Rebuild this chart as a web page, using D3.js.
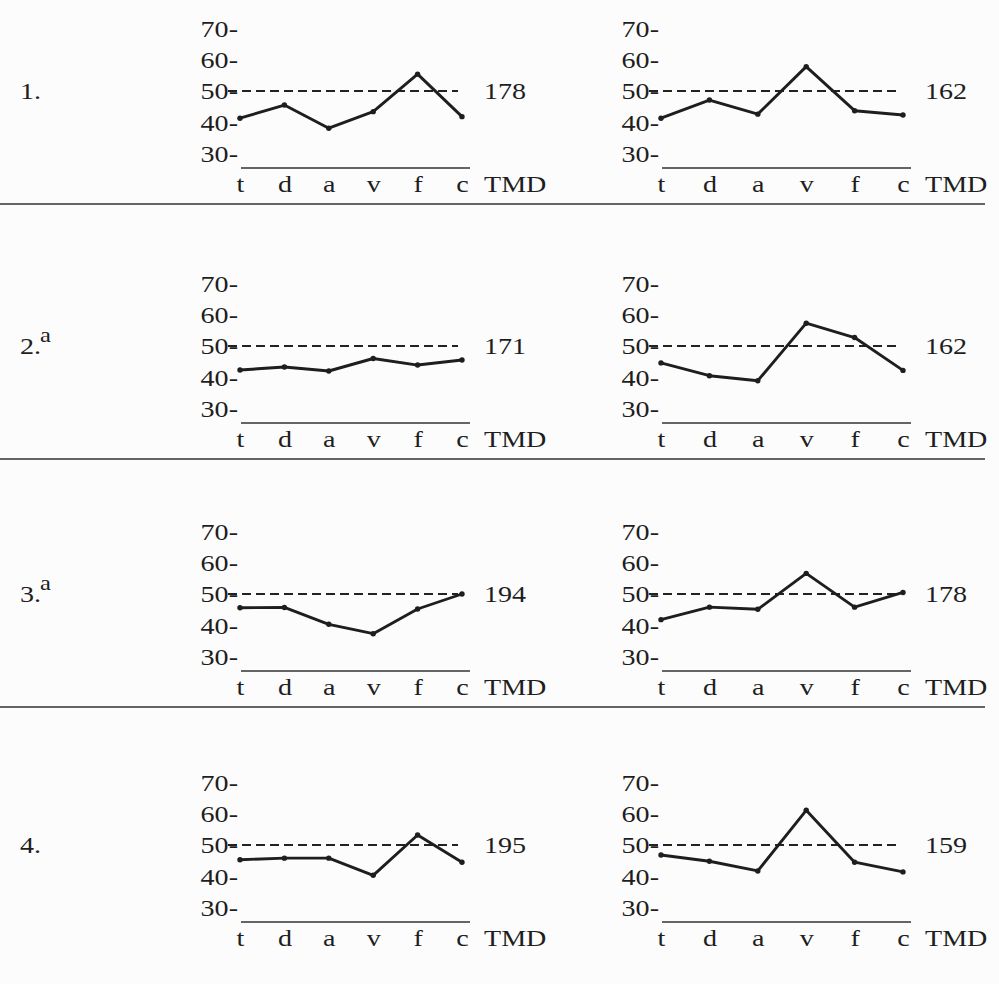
<!DOCTYPE html>
<html>
<head>
<meta charset="utf-8">
<script src="https://cdn.jsdelivr.net/npm/d3@7"></script>
<style>
  body { margin: 0; background: #fcfcfc; }
  svg text { font-family: "Liberation Serif", "Times New Roman", serif; fill: #1e1e1e; }
</style>
</head>
<body>
<svg id="chart" width="999" height="984"></svg>
<script>
// categories and tick values
const cats = ["t", "d", "a", "v", "f", "c"];
const yTicks = [30, 40, 50, 60, 70];
const rowLabels = ["1.", "2.", "3.", "4."];
const rowNotes = ["", "a", "a", ""];

// scores per row
const leftSeries = [
  [41.3, 45.5, 38.1, 43.4, 55.4, 41.8],
  [42.3, 43.3, 42.0, 46.0, 43.9, 45.5],
  [45.6, 45.7, 40.3, 37.3, 45.2, 50.0],
  [45.3, 45.8, 45.8, 40.3, 53.2, 44.5]
];
const rightSeries = [
  [41.3, 47.1, 42.6, 57.8, 43.7, 42.3],
  [44.6, 40.5, 38.9, 57.3, 52.7, 42.2],
  [41.8, 45.8, 45.1, 56.6, 45.8, 50.5],
  [46.8, 44.8, 41.7, 61.1, 44.5, 41.4]
];
const leftTotals = [178, 171, 194, 195];
const rightTotals = [162, 162, 178, 159];

// layout
const rowY = [91, 346, 594, 845];   // y position of the 50 line in each row
const cols = [{x0: 240, x1: 462}, {x0: 661, x1: 903}];
const fs = 24, sx = 1.17;

const svg = d3.select("#chart");

const addText = (g, x, y, str, anchor, size) => {
    return g.append("text")
        .attr("transform", `translate(${x},${y}) scale(${sx},1)`)
        .attr("text-anchor", anchor || "start")
        .attr("font-size", size || fs)
        .text(str);
}

function panel(y50, col, values, total) {
    const g = svg.append("g");
    const x = d3.scalePoint().domain(cats).range([col.x0, col.x1]);
    const y = d3.scaleLinear().domain([30, 70]).range([y50 + 62.5, y50 - 62.5]);

    // y axis labels "70-" etc.
    const ya = g.append("g")
        .attr("transform", `translate(${col.x0 - 2},0)`)
        .call(d3.axisLeft(y).tickValues(yTicks).tickSize(0).tickPadding(0).tickFormat(d => d + "-"));
    ya.select(".domain").remove();
    ya.selectAll("text")
        .attr("x", null).attr("dy", "0.33em")
        .attr("transform", `scale(${sx},1)`)
        .attr("font-size", fs)
        .attr("font-family", null)
        .style("fill", "#1e1e1e");

    // dashed 50 line
    g.append("line")
        .attr("x1", col.x0 - 12).attr("x2", col.x1 - 4)
        .attr("y1", y(50)).attr("y2", y(50))
        .attr("stroke", "#222").attr("stroke-width", 2)
        .attr("stroke-dasharray", "9,5");

    // baseline
    g.append("line")
        .attr("x1", col.x0 + 1).attr("x2", col.x1 + 8)
        .attr("y1", y50 + 77).attr("y2", y50 + 77)
        .attr("stroke", "#333").attr("stroke-width", 1.6);

    // category labels
    const xa = g.append("g")
        .attr("transform", `translate(0,${y50 + 101})`)
        .call(d3.axisBottom(x).tickSize(0).tickPadding(0));
    xa.select(".domain").remove();
    xa.selectAll("text")
        .attr("y", null).attr("dy", null)
        .attr("transform", `scale(${sx},1)`)
        .attr("font-size", fs)
        .attr("font-family", null)
        .style("fill", "#1e1e1e");

    addText(g, col.x1 + 22, y50 + 101, "TMD");
    addText(g, col.x1 + 22, y(50) + 8, total);

    // profile line
    const line = d3.line().x((d, i) => x(cats[i])).y(d => y(d));
    g.append("path")
        .attr("d", line(values))
        .attr("fill", "none")
        .attr("stroke", "#1e1e1e")
        .attr("stroke-width", 2.9)
        .attr("stroke-linejoin", "round");
    g.selectAll("circle")
        .data(values)
        .enter()
        .append("circle")
            .attr("cx", (d, i) => x(cats[i]))
            .attr("cy", d => y(d))
            .attr("r", 2.7)
            .attr("fill", "#1e1e1e");
}

rowY.forEach((y50, r) => {
    addText(svg, 20, y50 + 8, rowLabels[r]);
    if (rowNotes[r]) addText(svg, 40, y50 - 4, rowNotes[r], "start", 21);

    panel(y50, cols[0], leftSeries[r], leftTotals[r]);
    panel(y50, cols[1], rightSeries[r], rightTotals[r]);

    if (r < rowY.length - 1) {
        svg.append("line")
            .attr("x1", 0).attr("x2", 985)
            .attr("y1", y50 + 113).attr("y2", y50 + 113)
            .attr("stroke", "#333").attr("stroke-width", 1.6);
    }
});
</script>
</body>
</html>
